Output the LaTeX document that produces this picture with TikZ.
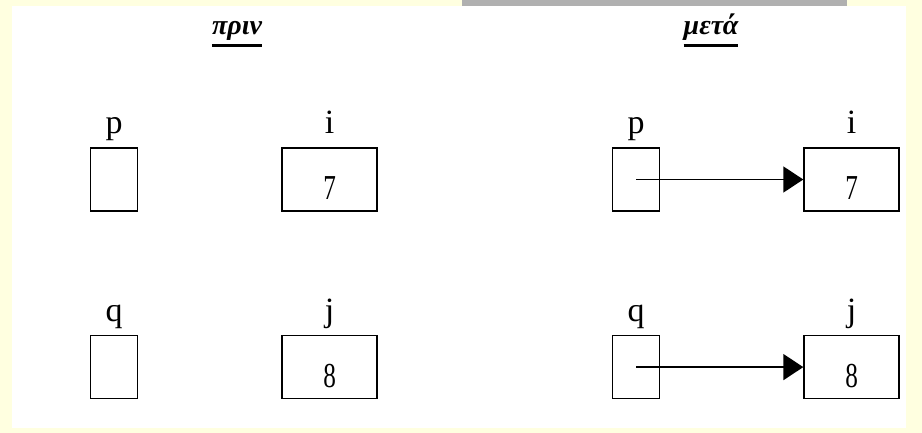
\documentclass[tikz,border=0pt]{standalone}
\usepackage{fontspec}
\setmainfont{Liberation Serif}
\usetikzlibrary{arrows.meta, positioning}
\definecolor{pagecream}{RGB}{255, 255, 224}
\definecolor{bargray}{RGB}{176, 176, 176}
\newcommand{\slim}[1]{\scalebox{0.72}[1]{#1}}

\begin{document}
\begin{tikzpicture}[
  x=1pt, y=-1pt,
  node distance=123pt and 143pt,
  label distance=13pt,
  ptrbox/.style={rectangle, draw, line width=1.6pt, minimum width=47pt,
                 minimum height=63pt, inner sep=0pt},
  varbox/.style={ptrbox, minimum width=95pt, text height=41pt, text depth=0pt,
                 font=\fontsize{35}{35}\selectfont},
  varname/.style={inner sep=0pt, text depth=0pt, font=\fontsize{34}{34}\selectfont},
  title/.style={inner sep=0pt, text depth=10pt, font=\fontsize{28}{28}\selectfont\bfseries\itshape},
  uline/.style={line width=3pt},
  arr/.style={-{Triangle[length=20pt, width=26pt]}, line width=1.6pt}
]
  % page
  \fill[pagecream] (0,0) rectangle (922,433);
  \fill[white] (12,6) rectangle (906,428);
  \fill[bargray] (462,0) rectangle (847,6);
  \useasboundingbox (0,0) rectangle (922,433);

  % titles
  \node[title, anchor=base] (before) at (237,35) {πριν};
  \node[title, anchor=base] (after) at (711,35) {μετά};
  \draw[uline] (before.south west) -- (before.south east);
  \draw[uline] (after.south west) -- (after.south east);

  % before
  \node[ptrbox, label={[varname]above:p}] (p1) at (114,179.5) {};
  \node[varbox, right=of p1, label={[varname]above:i}] (i1) {\slim{7}};
  \node[ptrbox, below=of p1, label={[varname]above:q}] (q1) {};
  \node[varbox, right=of q1, label={[varname]above:j}] (j1) {\slim{8}};

  % after
  \node[ptrbox, label={[varname]above:p}] (p2) at (636,179.5) {};
  \node[varbox, right=of p2, label={[varname]above:i}] (i2) {\slim{7}};
  \node[ptrbox, below=of p2, label={[varname]above:q}] (q2) {};
  \node[varbox, right=of q2, label={[varname]above:j}] (j2) {\slim{8}};
  \draw[arr] (p2.center) -- (i2.west);
  \draw[arr] (q2.center) -- (j2.west);
\end{tikzpicture}
\end{document}
